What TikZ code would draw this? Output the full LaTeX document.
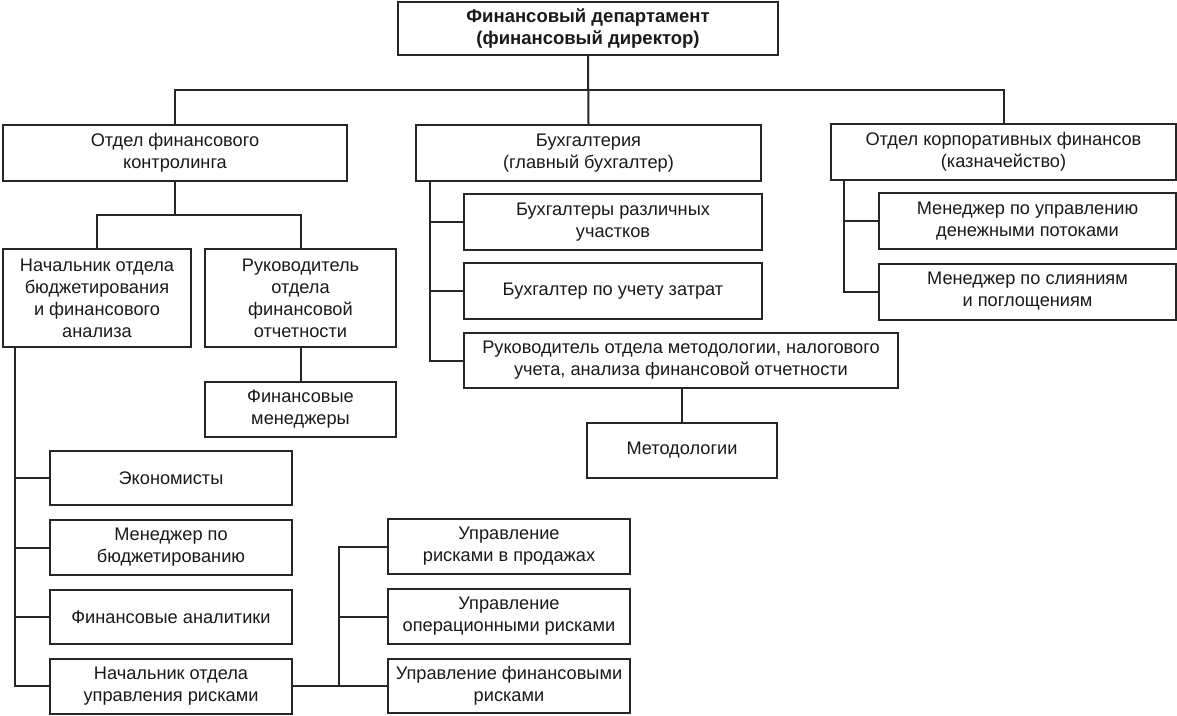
\documentclass[tikz,border=0pt]{standalone}
\usepackage{fontspec}
\setmainfont{Liberation Sans}
\begin{document}
\begin{tikzpicture}[x=1pt,y=-1pt,
  box/.style={draw=black!85, line width=2pt, rectangle, inner sep=0pt, align=center,
     font=\fontsize{18.2}{22}\selectfont, text=black!90},
  conn/.style={draw=black!85, line width=2pt}]
\useasboundingbox (0,0) rectangle (1177,715);
% level 1
\node[box, minimum width=380, minimum height=53, font=\fontsize{18.5}{22}\selectfont\bfseries] (top) at (588,28.5) {Финансовый департамент\\(финансовый директор)};
% level 2
\node[box, minimum width=344, minimum height=56] (ctrl) at (175,153) {Отдел финансового\\контролинга};
\node[box, minimum width=345, minimum height=56] (bukh) at (588.5,153) {Бухгалтерия\\(главный бухгалтер)};
\node[box, minimum width=345, minimum height=56] (corp) at (1003.5,152) {Отдел корпоративных финансов\\(казначейство)};
% controlling branch
\node[box, minimum width=188, minimum height=98] (nach) at (97,298) {Начальник отдела\\бюджетирования\\и финансового\\анализа};
\node[box, minimum width=191, minimum height=98] (ruk) at (300.5,298) {Руководитель\\отдела\\финансовой\\отчетности};
\node[box, minimum width=191, minimum height=55] (finm) at (300.5,409.5) {Финансовые\\менеджеры};
\node[box, minimum width=242, minimum height=54] (ekon) at (171,478) {Экономисты};
\node[box, minimum width=242, minimum height=55] (menb) at (171,547.5) {Менеджер по\\бюджетированию};
\node[box, minimum width=242, minimum height=54] (fina) at (171,617) {Финансовые аналитики};
\node[box, minimum width=242, minimum height=55] (nachr) at (171,686) {Начальник отдела\\управления рисками};
\node[box, minimum width=242, minimum height=55] (r1) at (509,546.5) {Управление\\рисками в продажах};
\node[box, minimum width=242, minimum height=55] (r2) at (509,616.5) {Управление\\операционными рисками};
\node[box, minimum width=242, minimum height=54] (r3) at (509,686) {Управление финансовыми\\рисками};
% accounting branch
\node[box, minimum width=298, minimum height=56] (b1) at (613,222) {Бухгалтеры различных\\участков};
\node[box, minimum width=298, minimum height=56] (b2) at (613,291) {Бухгалтер по учету затрат};
\node[box, minimum width=434, minimum height=55] (b3) at (681,360.5) {Руководитель отдела методологии, налогового\\учета, анализа финансовой отчетности};
\node[box, minimum width=190, minimum height=55] (met) at (682,450.5) {Методологии};
% corporate finance branch
\node[box, minimum width=297, minimum height=56] (c1) at (1027.5,221) {Менеджер по управлению\\денежными потоками};
\node[box, minimum width=297, minimum height=56] (c2) at (1027.5,291.5) {Менеджер по слияниям\\и поглощениям};
% connectors
\coordinate (hb) at (588,90);
\draw[conn] (top.south) -- (bukh.north);
\draw[conn] (ctrl.north) |- (hb) -| (corp.north);
\coordinate (cj) at (175,215);
\draw[conn] (ctrl.south) -- (cj);
\draw[conn] (nach.north) |- (cj) -| (ruk.north);
\draw[conn] (ruk.south) -- (finm.north);
\coordinate (nt) at (15,0);
\draw[conn] (nach.south -| nt) |- (nachr.west);
\draw[conn] (ekon.west) -- (ekon.west -| nt);
\draw[conn] (menb.west) -- (menb.west -| nt);
\draw[conn] (fina.west) -- (fina.west -| nt);
\coordinate (rt) at (339,0);
\draw[conn] (nachr.east) -- (r3.west);
\draw[conn] (r1.west) -- (r1.west -| rt) -- (r3.west -| rt);
\draw[conn] (r2.west) -- (r2.west -| rt);
\coordinate (bt) at (430,0);
\draw[conn] (bukh.south -| bt) |- (b3.west);
\draw[conn] (b1.west) -- (b1.west -| bt);
\draw[conn] (b2.west) -- (b2.west -| bt);
\draw[conn] (b3.south -| met.north) -- (met.north);
\coordinate (ct) at (844,0);
\draw[conn] (corp.south -| ct) |- (c2.west);
\draw[conn] (c1.west) -- (c1.west -| ct);
\end{tikzpicture}
\end{document}
